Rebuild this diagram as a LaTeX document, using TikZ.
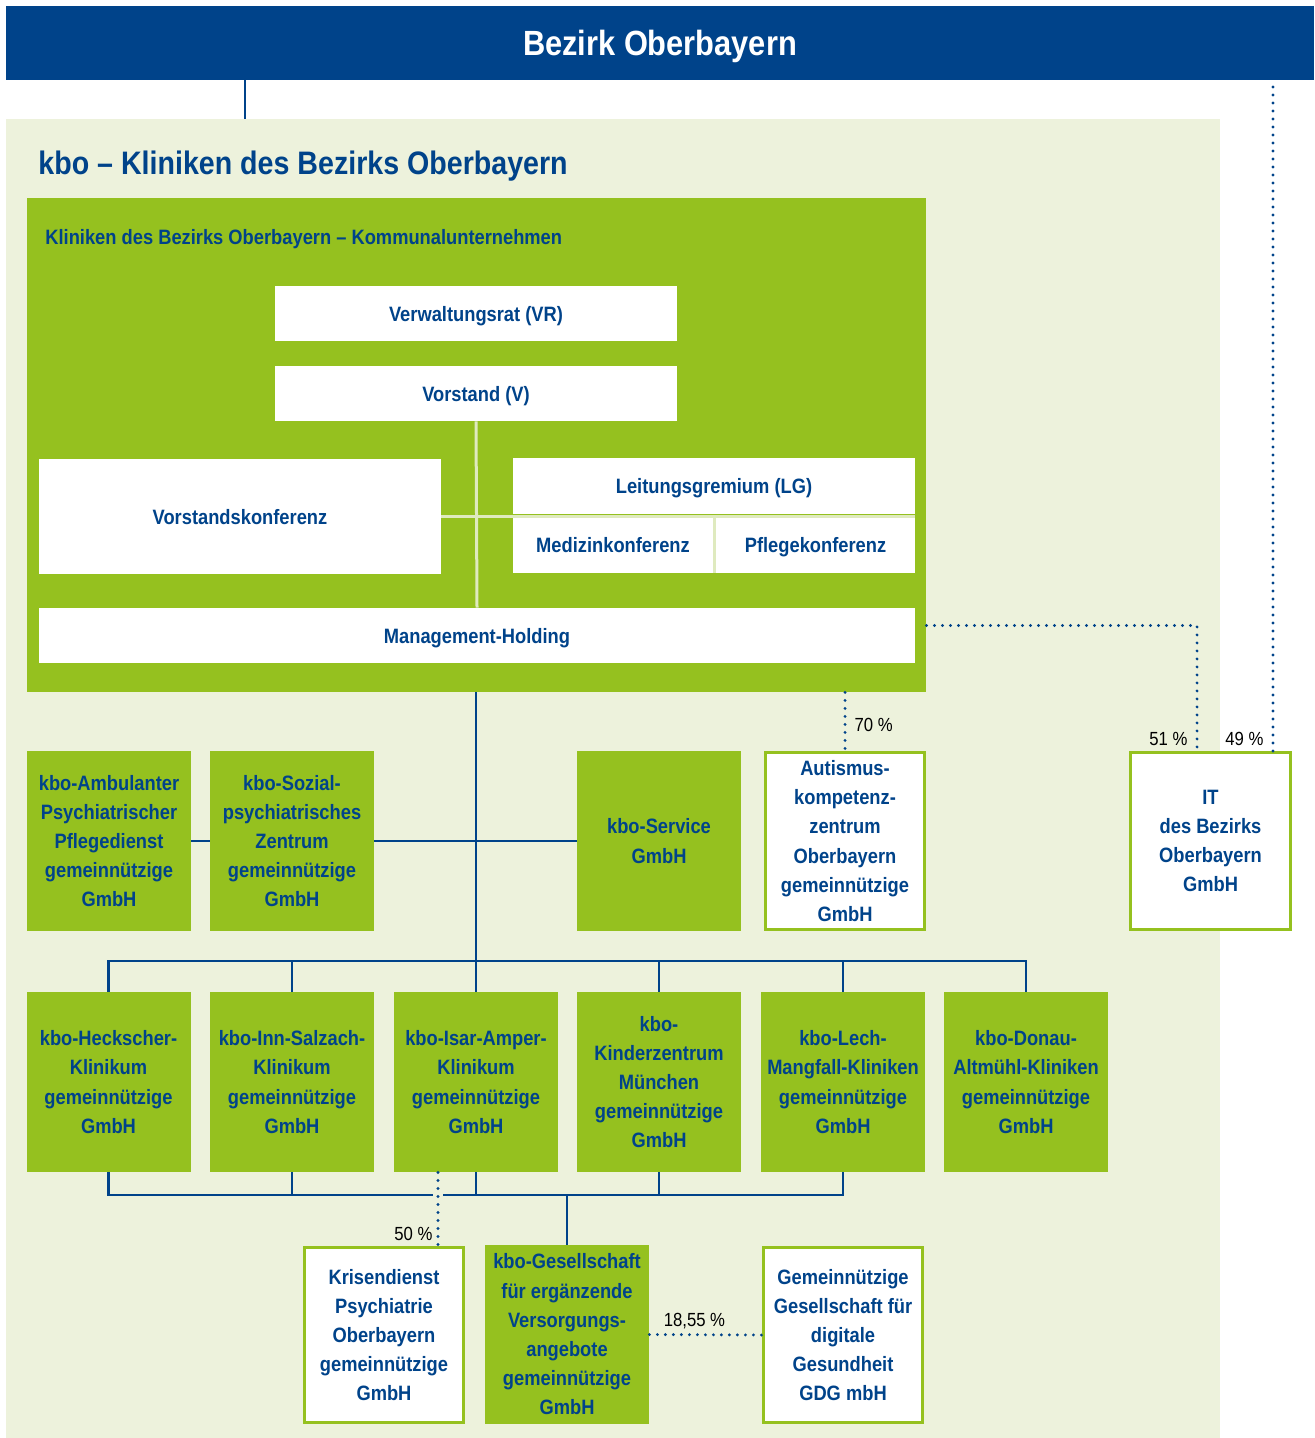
\documentclass[tikz,border=0pt]{standalone}
\usepackage{fontspec}
\setmainfont{Liberation Sans}[FakeStretch=0.88]
\usepackage{tikz}
\usetikzlibrary{positioning}
\definecolor{kboblue}{HTML}{00438A}
\definecolor{kbogreen}{HTML}{95C11F}
\definecolor{kbopale}{HTML}{EDF2DC}
\definecolor{kboline}{HTML}{DFEABF}
\tikzset{
  org/.style={align=center, inner sep=0pt, text=kboblue, font=\bfseries\fontsize{10.4}{14.6}\selectfont},
  board/.style={org, fill=white, text depth=0pt, minimum width=201pt, minimum height=27.5pt},
  kbounit/.style={org, fill=kbogreen, minimum width=82pt, minimum height=90pt},
  partner/.style={org, fill=white, draw=kbogreen, line width=1.5pt, minimum width=79.5pt, minimum height=88.5pt},
  link/.style={draw=kboblue, line width=1.2pt},
  paleline/.style={draw=kboline, line width=1.5pt},
  dots/.style={draw=kboblue, line width=1.6pt, line cap=round, dash pattern=on 0pt off 4pt},
  pct/.style={text=black, font=\fontsize{9.5}{11}\selectfont, inner ysep=2pt, inner xsep=4pt}
}

\begin{document}
\begin{tikzpicture}[x=0.5pt, y=-0.5pt]
    \useasboundingbox (0,0) rectangle (1314,1438);
    \fill[white] (0,0) rectangle (1314,1438);

    % Bezirk and kbo panel
    \node[fill=kboblue, text=white, inner sep=0pt, text depth=0pt, font=\bfseries\fontsize{17.5}{20}\selectfont,
          minimum width=654pt, minimum height=37pt] (bezirk) at (660,43) {Bezirk Oberbayern};
    \node[fill=kbopale, inner sep=0pt, minimum width=607pt, minimum height=659.5pt] (panel) at (613,778.5) {};
    \node[org, anchor=base west, font=\bfseries\fontsize{16.25}{19}\selectfont] (title) at (38,175) {kbo – Kliniken des Bezirks Oberbayern};
    \coordinate (bzline) at (245,0);
    \draw[link] (bezirk.south -| bzline) -- (panel.north -| bzline);

    % Kommunalunternehmen
    \node[fill=kbogreen, inner sep=0pt, minimum width=449.5pt, minimum height=247pt] (ku) at (476.5,445) {};
    \node[org, anchor=base west, font=\bfseries\fontsize{10.4}{12}\selectfont] (kulabel) at (45,245) {Kliniken des Bezirks Oberbayern – Kommunalunternehmen};
    \node[board] (vr) at (476,313.5) {Verwaltungsrat (VR)};
    \node[board] (vs) at (476,393.5) {Vorstand (V)};
    \node[board, minimum height=57.5pt] (vk) at (240,516.5) {Vorstandskonferenz};
    \node[board, minimum height=28pt] (lg) at (714,486) {Leitungsgremium (LG)};
    \node[board, minimum width=100pt, minimum height=28pt] (mk) at (613,545) {Medizinkonferenz};
    \node[board, minimum width=99.5pt, minimum height=28pt] (pk) at (815.5,545) {Pflegekonferenz};
    \node[board, minimum width=438pt] (mh) at (477,635.5) {Management-Holding};

    \draw[paleline] (vs.south) -- (mh.north);
    \draw[paleline] (vk.east) -- (vk.east -| lg.east);
    \draw[paleline] ([xshift=0.75pt]mk.north east) -- ([xshift=0.75pt]mk.south east);

    % first row
    \node[kbounit] (amb) at (109,841) {kbo-Ambulanter\\Psychiatrischer\\Pflegedienst\\gemeinnützige\\GmbH};
    \node[kbounit] (soz) at (292,841) {kbo-Sozial-\\psychiatrisches\\Zentrum\\gemeinnützige\\GmbH};
    \node[kbounit] (svc) at (659,841) {kbo-Service\\GmbH};
    \node[partner] (aut) at (845,841) {Autismus-\\kompetenz-\\zentrum\\Oberbayern\\gemeinnützige\\GmbH};
    \node[partner, minimum width=80pt] (it) at (1210.5,841) {IT\\des Bezirks\\Oberbayern\\GmbH};

    % kliniken row
    \node[kbounit] (heck) at (108.5,1082) {kbo-Heckscher-\\Klinikum\\gemeinnützige\\GmbH};
    \node[kbounit] (inn) at (292,1082) {kbo-Inn-Salzach-\\Klinikum\\gemeinnützige\\GmbH};
    \node[kbounit] (isar) at (476,1082) {kbo-Isar-Amper-\\Klinikum\\gemeinnützige\\GmbH};
    \node[kbounit] (kinder) at (659,1082) {kbo-\\Kinderzentrum\\München\\gemeinnützige\\GmbH};
    \node[kbounit] (lech) at (843,1082) {kbo-Lech-\\Mangfall-Kliniken\\gemeinnützige\\GmbH};
    \node[kbounit] (donau) at (1026,1082) {kbo-Donau-\\Altmühl-Kliniken\\gemeinnützige\\GmbH};

    % bottom row
    \node[partner, minimum height=87.5pt] (kris) at (384,1335) {Krisendienst\\Psychiatrie\\Oberbayern\\gemeinnützige\\GmbH};
    \node[kbounit, minimum height=89.5pt] (gesell) at (567,1334.5) {kbo-Gesellschaft\\für ergänzende\\Versorgungs-\\angebote\\gemeinnützige\\GmbH};
    \node[partner, minimum height=87.5pt] (gdg) at (843,1335) {Gemeinnützige\\Gesellschaft für\\digitale\\Gesundheit\\GDG mbH};

    % links
    \coordinate (bus) at (476,961);
    \coordinate (lowbus) at (567,1195);
    \draw[link] (ku.south -| isar.north) -- (isar.north);
    \draw[link] (amb) -- (soz);
    \draw[link] (soz) -- (svc);
    \draw[link] (heck.north) -- (heck.north |- bus) -- (donau.north |- bus) -- (donau.north);
    \foreach \k in {inn,kinder,lech}
      \draw[link] (\k.north) -- (\k.north |- bus);
    \draw[link] (heck.south) -- (heck.south |- lowbus) -- (lech.south |- lowbus) -- (lech.south);
    \foreach \k in {inn,isar,kinder}
      \draw[link] (\k.south) -- (\k.south |- lowbus);
    \draw[link] (lowbus) -- (gesell.north);

    % shares
    \coordinate (c50) at (438,0);
    \draw[dots] (ku.south -| aut.north) -- node[pct, right, pos=0.55] {70 \%} (aut.north);
    \draw[dots] ([yshift=5pt]mh.east -| ku.east) -| node[pct, anchor=south east, pos=1] {51 \%} ([xshift=-6.75pt]it.north);
    \draw[dots] ([xshift=31.25pt]it.north) node[pct, anchor=south east] {49 \%} -- ([xshift=31.25pt]it.north |- bezirk.south);
    \draw[dots, preaction={draw=kbopale, solid, line cap=butt, line width=5pt}] (isar.south -| c50) -- (kris.north -| c50) node[pct, anchor=south east, inner xsep=2pt] {50 \%};
    \draw[dots] (gesell.east) -- node[pct, above, pos=0.4] {18,55 \%} (gdg.west);
\end{tikzpicture}
\end{document}
